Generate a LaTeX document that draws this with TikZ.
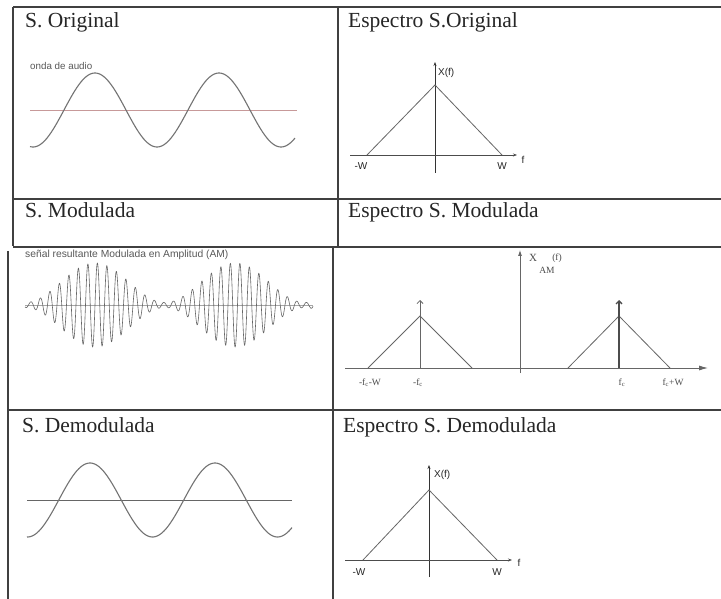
\documentclass[tikz,border=0pt]{standalone}
\usepackage{fontspec}
\setmainfont{Liberation Serif}
\newfontfamily\lsans{Liberation Sans}
\usetikzlibrary{arrows.meta}
\begin{document}
\begin{tikzpicture}[x=1pt,y=-1pt,
  tline/.style={draw=black!75, line width=1.3pt},
  hdr/.style={anchor=base west, font=\fontsize{21.5}{24}\selectfont, text=black!85, inner sep=0pt},
  lbl/.style={font=\lsans\fontsize{10}{11}\selectfont, inner sep=0pt, text=black!85},
  amlbl/.style={font=\fontsize{9.5}{10}\selectfont, inner sep=0pt, text=black!70},
  wave/.style={draw=black!55, line width=1.1pt},
  axisln/.style={draw=black!80, line width=0.9pt},
  triln/.style={draw=black!60, line width=0.8pt},
  amwave/.style={draw=black!60, line width=0.6pt}]
\useasboundingbox (0,0) rectangle (721,599);
\fill[white] (0,0) rectangle (721,599);

% ---------- table lines ----------
\draw[tline] (13,7) -- (721,7);
\draw[tline] (13,7) -- (13,246);
\draw[tline] (338,7) -- (338,247);
\draw[tline] (13,199) -- (721,199);
\draw[tline] (13,247) -- (721,247);
\draw[tline] (8,251) -- (8,599);
\draw[tline] (333,247) -- (333,599);
\draw[tline] (8,410) -- (721,410);

% ---------- headers ----------
\node[hdr] (h1) at (25,28) {S. Original};
\node[hdr] (h2) at (348,28) {Espectro S.Original};
\node[hdr] (h3) at (25,218) {S. Modulada};
\node[hdr] (h4) at (348,218) {Espectro S. Modulada};
\node[hdr] (h5) at (22,432) {S. Demodulada};
\node[hdr] (h6) at (343,432) {Espectro S. Demodulada};

% ---------- row 1 : original signal ----------
\node[lbl, anchor=base west, font=\lsans\fontsize{9.8}{11}\selectfont, text=black!65] (onda) at (30,70) {onda de audio};
\draw[draw=red!45!black!40, line width=0.9pt] (30,110) -- (297,110);
\draw[wave] plot[domain=30:295, samples=200] (\x, {110 - 37*sin((\x-64)/124*360)});

% ---------- row 1 : spectrum ----------
\coordinate (a1top) at (435,62);
\coordinate (a1bot) at (435,173);
\coordinate (a1l) at (350,155);
\coordinate (a1r) at (517,155);
\coordinate (t1l) at (367,155);
\coordinate (t1p) at (435,85);
\coordinate (t1r) at (502,155);
\draw[axisln, -{Stealth[length=4pt,width=3pt]}] (a1bot) -- (a1top);
\draw[draw=black!70, line width=0.8pt, -{Stealth[length=4pt,width=3pt]}] (a1l) -- (a1r);
\draw[triln] (t1l) -- (t1p) -- (t1r);
\node[lbl, anchor=west] (x1) at (438,73) {X(f)};
\node[lbl] (mw1) at (361,166) {-W};
\node[lbl] (w1) at (502,166) {W};
\node[lbl] (f1) at (523,160) {f};

% ---------- row 2 : AM signal ----------
\node[lbl, anchor=base west, font=\lsans\fontsize{10.3}{11}\selectfont, text=black!65] (senal) at (25,258) {señal resultante Modulada en Amplitud (AM)};
\draw[draw=black!35, line width=0.6pt] (25,305) -- (313,305);
\draw[amwave] plot[domain=25:313, samples=1500]
  (\x, {305 - 42*(0.06 + 0.94*sin((\x-25)/140*180)*sin((\x-25)/140*180))*sin(\x/9.5*360)});

% ---------- row 2 : AM spectrum ----------
\coordinate (a2top) at (520,250);
\coordinate (a2bot) at (520,373);
\coordinate (a2l) at (345,368);
\coordinate (a2r) at (708,368);
\draw[draw=black!60, line width=0.8pt, -{Latex[length=6pt,width=4pt]}] (a2bot) -- (a2top);
\draw[draw=black!60, line width=0.8pt, -{Latex[length=9pt,width=5pt]}] (a2l) -- (a2r);
\coordinate (lt1) at (368,368);
\coordinate (lp) at (420,316);
\coordinate (lt2) at (472,368);
\coordinate (lc0) at (420,368);
\coordinate (lc1) at (420,300);
\coordinate (rt1) at (568,368);
\coordinate (rp) at (619,316);
\coordinate (rt2) at (670,368);
\coordinate (rc0) at (619,368);
\coordinate (rc1) at (619,300);
\draw[triln] (lt1) -- (lp) -- (lt2);
\draw[triln] (rt1) -- (rp) -- (rt2);
\draw[draw=black!60, line width=0.8pt, -{Straight Barb[length=3pt,width=6pt]}] (lc0) -- (lc1);
\draw[draw=black!70, line width=1.3pt, -{Straight Barb[length=3pt,width=6pt]}] (rc0) -- (rc1);
\node[amlbl, font=\fontsize{11}{12}\selectfont] (xam) at (533,258) {X};
\node[amlbl] (xamf) at (557,258) {(f)};
\node[amlbl] (xamsub) at (547,270) {AM};
\node[amlbl] (l1) at (370,383) {-f\textsubscript{c}-W};
\node[amlbl] (l2) at (418,383) {-f\textsubscript{c}};
\node[amlbl] (l3) at (622,383) {f\textsubscript{c}};
\node[amlbl] (l4) at (673,383) {f\textsubscript{c}+W};

% ---------- row 3 : demodulated signal ----------
\draw[draw=black!60, line width=0.9pt] (27,500) -- (292,500);
\draw[wave] plot[domain=27:292, samples=200] (\x, {500 - 37*sin((\x-58.75)/125*360)});

% ---------- row 3 : spectrum ----------
\coordinate (a3top) at (429,465);
\coordinate (a3bot) at (429,577);
\coordinate (a3l) at (345,560);
\coordinate (a3r) at (512,560);
\coordinate (t3l) at (363,560);
\coordinate (t3p) at (429,490);
\coordinate (t3r) at (497,560);
\draw[axisln, -{Stealth[length=4pt,width=3pt]}] (a3bot) -- (a3top);
\draw[draw=black!70, line width=0.8pt, -{Stealth[length=4pt,width=3pt]}] (a3l) -- (a3r);
\draw[triln] (t3l) -- (t3p) -- (t3r);
\node[lbl, anchor=west] (x3) at (434,475) {X(f)};
\node[lbl] (mw3) at (359,572) {-W};
\node[lbl] (w3) at (497,572) {W};
\node[lbl] (f3) at (519,563) {f};
\end{tikzpicture}
\end{document}
